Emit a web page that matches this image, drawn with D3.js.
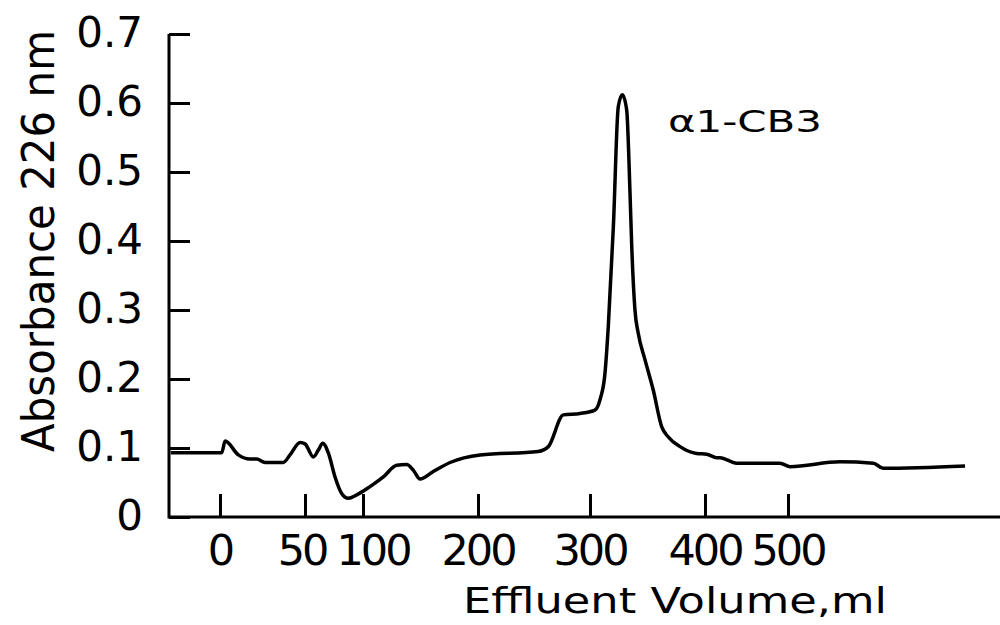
<!DOCTYPE html>
<html>
<head>
<meta charset="utf-8">
<script src="https://cdn.jsdelivr.net/npm/d3@7"></script>
<style>
  body { margin: 0; background: #fff; }
  text { font-family: "DejaVu Sans", sans-serif; fill: #000; }
</style>
</head>
<body>
<script>
// elution profile
var volume = [-29, 1, 3, 10.8, 17.6, 21.6, 26.5, 37.2, 41.2, 47.1, 50, 57.2, 61.5, 65.3, 70.1,
  75.9, 81.6, 87.3, 94.6, 106.1, 117.7, 129.3, 138, 143.7, 149.6, 161.1, 175.7, 201.8,
  253.8, 262.8, 276.2, 291.1, 304.3, 308.7, 313, 315.9, 320.3, 324.6, 328.1, 331.9, 334.8,
  336.3, 339.1, 342, 347.8, 355, 362.3, 368.1, 378.3, 392.8, 402, 414.1, 418.1, 438.2,
  490.4, 502.4, 562.7, 602.8, 614.8, 713.3];
var absorbance = [0.093, 0.093, 0.11, 0.09, 0.084, 0.084, 0.079, 0.079, 0.09, 0.108, 0.106, 0.087, 0.097, 0.107, 0.093,
  0.058, 0.034, 0.027, 0.032, 0.044, 0.058, 0.075, 0.076, 0.068, 0.055, 0.066, 0.079, 0.09,
  0.095, 0.102, 0.148, 0.15, 0.155, 0.17, 0.208, 0.276, 0.42, 0.595, 0.612, 0.59, 0.469,
  0.392, 0.30, 0.266, 0.228, 0.184, 0.131, 0.116, 0.102, 0.092, 0.091, 0.086, 0.086, 0.078,
  0.078, 0.073, 0.08, 0.078, 0.0705, 0.074];

var xTicks = [0, 50, 100, 200, 300, 400, 500];
var yTicks = [0, 0.1, 0.2, 0.3, 0.4, 0.5, 0.6, 0.7];
var yTickLabels = ["0", "0.1", "0.2", "0.3", "0.4", "0.5", "0.6", "0.7"];
var peakLabel = "α1-CB3";

var svgWidth = 1000, svgHeight = 625;
var svg = d3.select("body").append("svg")
  .attr("width", svgWidth)
  .attr("height", svgHeight);

// the printed volume axis is not evenly spaced, so use a piecewise scale
var xScale = d3.scaleLinear()
  .domain(xTicks)
  .range([220, 305, 363, 478, 590, 705, 788]);

var yScale = d3.scaleLinear()
  .domain([0, 0.7])
  .range([517, 34]);

var left = 169, right = 1000;

// axes, ticks point inward
var yAxis = d3.axisRight(yScale)
  .tickValues(yTicks)
  .tickSize(21)
  .tickFormat("");
svg.append("g")
  .attr("transform", `translate(${left},0)`)
  .call(yAxis)
  .call(g => g.select(".domain").remove())
  .call(g => g.selectAll("line").attr("stroke", "#000").attr("stroke-width", 3));

var xAxis = d3.axisTop(xScale)
  .tickValues(xTicks)
  .tickSize(23)
  .tickFormat("");
svg.append("g")
  .attr("transform", `translate(0,${yScale(0)})`)
  .call(xAxis)
  .call(g => g.select(".domain").remove())
  .call(g => g.selectAll("line").attr("stroke", "#000").attr("stroke-width", 3));

svg.append("path")
  .attr("d", `M${left},${yScale(0.7)}V${yScale(0)}H${right}`)
  .attr("fill", "none")
  .attr("stroke", "#000")
  .attr("stroke-width", 3);

// tick labels
svg.selectAll(".ylab")
  .data(yTicks)
  .enter()
  .append("text")
  .attr("class", "ylab")
  .attr("x", 143)
  .attr("y", d => yScale(d) + 13)
  .attr("text-anchor", "end")
  .attr("font-size", 42)
  .text((d, i) => yTickLabels[i]);

// 50 and 100 sit nearly on top of each other, nudge 100 right a bit
svg.selectAll(".xlab")
  .data(xTicks)
  .enter()
  .append("text")
  .attr("class", "xlab")
  .attr("x", d => xScale(d))
  .attr("dx", d => d === 100 ? 10 : (d === 50 ? -3 : 0))
  .attr("y", 565)
  .attr("text-anchor", "middle")
  .attr("font-size", 43)
  .attr("letter-spacing", -3)
  .text(d => d);

// axis titles
svg.append("text")
  .attr("x", 463)
  .attr("y", 613)
  .attr("font-size", 36)
  .attr("textLength", 424)
  .attr("lengthAdjust", "spacingAndGlyphs")
  .text("Effluent Volume,ml");

svg.append("text")
  .attr("transform", "translate(54,452) rotate(-90)")
  .attr("font-size", 45)
  .attr("textLength", 422)
  .attr("lengthAdjust", "spacingAndGlyphs")
  .text("Absorbance 226 nm");

// trace
var line = d3.line()
  .x((d, i) => xScale(volume[i]))
  .y((d, i) => yScale(absorbance[i]))
  .curve(d3.curveMonotoneX);

svg.append("path")
  .datum(volume)
  .attr("d", line)
  .attr("fill", "none")
  .attr("stroke", "#000")
  .attr("stroke-width", 3.5)
  .attr("stroke-linejoin", "round");

svg.append("text")
  .attr("x", 668)
  .attr("y", 132)
  .attr("font-size", 30)
  .attr("textLength", 154)
  .attr("lengthAdjust", "spacingAndGlyphs")
  .text(peakLabel);
</script>
</body>
</html>
